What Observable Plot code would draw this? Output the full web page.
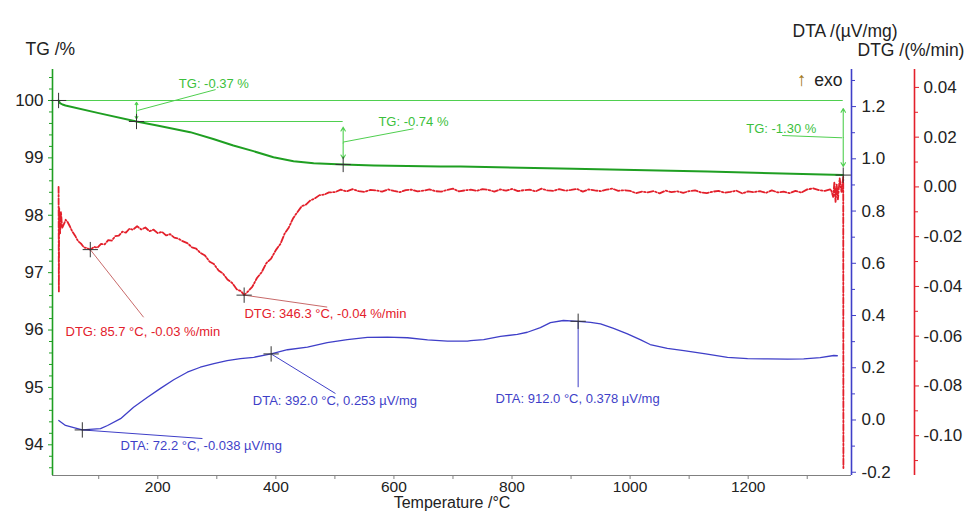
<!DOCTYPE html>
<html><head><meta charset="utf-8">
<script src="https://cdn.jsdelivr.net/npm/d3@7"></script>
<script src="https://cdn.jsdelivr.net/npm/@observablehq/plot@0.6"></script>
<style>body{margin:0;background:#fff}#chart svg{display:block}</style>
</head><body><div id="chart"></div>
<script>
// ---------- data ----------
const tgT = [32, 34.3, 38.6, 43.7, 100, 164, 199, 255, 294, 328, 362, 396, 430, 464, 514, 566, 679, 713, 904, 1131, 1361];
const tgV = [100.0, 99.956, 99.93, 99.913, 99.78, 99.634, 99.564, 99.448, 99.33, 99.216, 99.117, 99.012, 98.943, 98.907, 98.885, 98.867, 98.85, 98.848, 98.81, 98.763, 98.70];

const dtaT = [32.3, 43.7, 57.7, 72.2, 103, 115, 137, 159, 182, 204.6, 227, 250, 272, 295, 317.5, 340, 362.6, 392, 419.7, 453.5, 487, 521, 555, 589, 623, 657, 690.6, 724.6, 730, 752, 780.5, 809, 826, 848, 865, 887, 912, 933, 950, 972, 995.5, 1018, 1034, 1063, 1091, 1128, 1165, 1199, 1233, 1266.5, 1294, 1322, 1345, 1351];
const dtaV = [-0.002, -0.021, -0.029, -0.038, -0.033, -0.021, 0.005, 0.049, 0.086, 0.121, 0.154, 0.183, 0.202, 0.216, 0.227, 0.235, 0.240, 0.253, 0.269, 0.279, 0.296, 0.308, 0.316, 0.317, 0.315, 0.307, 0.302, 0.302, 0.304, 0.308, 0.320, 0.328, 0.336, 0.354, 0.373, 0.381, 0.378, 0.374, 0.368, 0.351, 0.330, 0.307, 0.289, 0.274, 0.266, 0.253, 0.240, 0.235, 0.234, 0.233, 0.234, 0.239, 0.247, 0.246];

const dtgT = [32, 32.5, 33, 34.5, 36, 38, 41, 44, 47, 51, 55, 60, 65, 70, 75, 80, 85.7, 92, 98, 104, 110, 116, 122, 128, 134, 140, 146, 152, 158, 165, 172, 179, 186, 193, 200, 207, 214, 221, 228, 235, 242, 250, 258, 265, 272, 280, 288, 295, 303, 310, 318, 326, 334, 341, 346.3, 352, 360, 368, 376, 384, 392, 400, 408, 415, 422, 429, 436, 444, 451, 458, 466, 474, 482, 490, 500,
  510, 520, 530, 540, 550, 560, 570, 580, 590, 600, 610, 620, 630, 640, 650, 660, 670, 680, 690, 700, 710, 720, 730, 740, 750, 760, 770, 780, 790, 800, 810, 820, 830, 840, 850, 860, 870, 880, 890, 900, 910, 920, 930, 940, 950, 960, 970, 980, 990, 1000, 1010, 1020, 1030, 1040, 1050, 1060, 1070, 1080, 1090, 1100, 1110, 1120, 1130, 1140, 1150, 1160, 1170, 1180, 1190, 1200, 1210, 1220, 1230, 1240, 1250, 1260, 1270, 1280, 1290, 1300, 1310, 1320, 1330, 1340,
  1344, 1346, 1348, 1350, 1352, 1355, 1358, 1361, 1361.3];
const dtgV = [0.0, -0.042, -0.0085, -0.019, -0.010, -0.0165, -0.015, -0.0132, -0.014, -0.0158, -0.0178, -0.0196, -0.0218, -0.0228, -0.0243, -0.0246, -0.0252, -0.0241, -0.0244, -0.0229, -0.0231, -0.0214, -0.0216, -0.0198, -0.0196, -0.018, -0.0184, -0.0168, -0.0172, -0.0158, -0.0171, -0.0163, -0.0178, -0.0172, -0.0186, -0.018, -0.0195, -0.019, -0.0204, -0.0208, -0.0218, -0.0226, -0.0243, -0.0248, -0.0265, -0.0276, -0.0301, -0.031, -0.0336, -0.0347, -0.0372, -0.0386, -0.0412, -0.0419, -0.0435, -0.0422, -0.0402, -0.0366, -0.0343, -0.0306, -0.0288, -0.0254, -0.0228, -0.0187, -0.0163, -0.0127, -0.0103, -0.0077, -0.0071, -0.0055, -0.0046, -0.0033, -0.0031, -0.0022, -0.0021,
  -0.0011, -0.0018, -0.0009, -0.0017, -0.0020, -0.0012, -0.0014, -0.0019, -0.0010, -0.0016, -0.0021, -0.0013, -0.0011, -0.0018, -0.0015, -0.0010, -0.0017, -0.0019, -0.0012, -0.0007, -0.0018, -0.0014, -0.0011, -0.0016, -0.0009, -0.0012, -0.0019, -0.0010, -0.0015, -0.0008, -0.0017, -0.0013, -0.0011, -0.0018, -0.0007, -0.0014, -0.0016, -0.0009, -0.0015, -0.0012, -0.0008, -0.0019, -0.0010, -0.0014, -0.0017, -0.0011, -0.0007, -0.0016, -0.0013, -0.0016, -0.0025, -0.0019, -0.0022, -0.0017, -0.0026, -0.0015, -0.0021, -0.0018, -0.0024, -0.0017, -0.0014, -0.0022, -0.0025, -0.0019, -0.0016, -0.0023, -0.0020, -0.0015, -0.0026, -0.0018, -0.0021, -0.0017, -0.0024, -0.0014, -0.0022, -0.0019, -0.0025, -0.0016, -0.0023, -0.0010, -0.0006, -0.0013, -0.0016, -0.0009,
  -0.0040, 0.0020, -0.0060, 0.0010, -0.0050, 0.0035, -0.0020, 0.0040, -0.1130];

// tick values
const xTicks = [100, 200, 300, 400, 500, 600, 700, 800, 900, 1000, 1100, 1200, 1300];
const tgMajor = [94, 95, 96, 97, 98, 99, 100];
const dtaMajor = [-0.2, 0.0, 0.2, 0.4, 0.6, 0.8, 1.0, 1.2];
const dtaMinor = [-0.1, 0.1, 0.3, 0.5, 0.7, 0.9, 1.1, 1.3];
const dtgMajor = [-0.10, -0.08, -0.06, -0.04, -0.02, 0.00, 0.02, 0.04];
const dtgMinor = [-0.11, -0.09, -0.07, -0.05, -0.03, -0.01, 0.01, 0.03];

// annotations (data units)
const tgLabels = ["TG: -0.37 %", "TG: -0.74 %", "TG: -1.30 %"];
const tgLabelT = [295, 633, 1256];
const tgLabelV = [100.296, 99.622, 99.512];
const tgLeadT1 = [298, 633, 1257.6], tgLeadV1 = [100.19, 99.507, 99.39];
const tgLeadT2 = [165.6, 514, 1359], tgLeadV2 = [99.826, 99.275, 99.35];
const tgArrowT = [164, 514, 1361];
const tgArrowTop = [99.97, 99.535, 99.86];
const tgArrowBottom = [99.68, 98.984, 98.85];
const tgRefT1 = [32, 164], tgRefT2 = [1361, 514], tgRefV = [100, 99.634];
const tgMarkT = [32, 164, 514, 1361], tgMarkV = [100, 99.634, 98.885, 98.70];

const dtgLabels = ["DTG: 85.7 °C, -0.03 %/min", "DTG: 346.3 °C, -0.04 %/min"];
const dtgPeakT = [85.7, 346.3], dtgPeakV = [-0.0252, -0.0435];
const dtgLeadT = [176, 487], dtgLeadV = [-0.0524, -0.0483];
const dtgLabelT = [43.7, 346.8], dtgLabelV = [-0.0582, -0.0510];

const dtaLabels = ["DTA: 72.2 °C, -0.038 µV/mg", "DTA: 392.0 °C, 0.253 µV/mg", "DTA: 912.0 °C, 0.378 µV/mg"];
const dtaPeakT = [72.2, 392, 912], dtaPeakV = [-0.038, 0.253, 0.378];
const dtaLeadT = [275.7, 501, 912], dtaLeadV = [-0.071, 0.1014, 0.1256];
const dtaLabelT = [137, 361, 772], dtaLabelV = [-0.0976, 0.0747, 0.0815];

// ---------- scales ----------
const xDomain = [21.7, 1375];
const tgDomain = [93.465, 100.54];
const dtaDomain = [-0.2125, 1.342];
const dtgDomain = [-0.116, 0.0472];
const dtaToTg = d3.scaleLinear(dtaDomain, tgDomain);
const dtgToTg = d3.scaleLinear(dtgDomain, tgDomain);

const GREEN = "#1f9f22", LGREEN = "#4fcf4f", TGTXT = "#3cbf3c";
const BLUE = "#3f3fc8", RED = "#e3202b", DTGLEAD = "#c86a6a";
const INK = "#222";

function fmt(v, d) { const p = Math.pow(10, d); let r = Math.round(v * p) / p; if (r === 0) r = 0; return r.toFixed(d); }

const tg = tgT.map((t, i) => ({t, v: tgV[i]}));
const dta = dtaT.map((t, i) => ({t, v: dtaToTg(dtaV[i])}));
const dtg = dtgT.map((t, i) => ({t, v: dtgToTg(dtgV[i])}));

const tgAnn = tgLabels.map((s, i) => ({s, lt: tgLabelT[i], lv: tgLabelV[i], t1: tgLeadT1[i], v1: tgLeadV1[i], t2: tgLeadT2[i], v2: tgLeadV2[i],
  at: tgArrowT[i], top: tgArrowTop[i], bot: tgArrowBottom[i], mid: (tgArrowTop[i] + tgArrowBottom[i]) / 2}));
const tgRefs = tgRefV.map((v, i) => ({v, t1: tgRefT1[i], t2: tgRefT2[i]}));
const tgMarks = tgMarkT.map((t, i) => ({t, v: tgMarkV[i]}));
const dtgAnn = dtgLabels.map((s, i) => ({s, pt: dtgPeakT[i], pv: dtgToTg(dtgPeakV[i]), lt: dtgLeadT[i], lv: dtgToTg(dtgLeadV[i]), xt: dtgLabelT[i], xv: dtgToTg(dtgLabelV[i])}));
const dtaAnn = dtaLabels.map((s, i) => ({s, pt: dtaPeakT[i], pv: dtaToTg(dtaPeakV[i]), lt: dtaLeadT[i], lv: dtaToTg(dtaLeadV[i]), xt: dtaLabelT[i], xv: dtaToTg(dtaLabelV[i])}));

const tgMinor = d3.range(93.6, 100.5, 0.2).filter(v => Math.abs(v - Math.round(v)) > 0.05);

const chart = Plot.plot({
  width: 971, height: 511,
  marginLeft: 52, marginRight: 120, marginTop: 69, marginBottom: 36,
  x: {domain: xDomain},
  y: {domain: tgDomain},
  style: {fontFamily: "'Liberation Sans', Arial, sans-serif", background: "#fff", color: INK},
  marks: [
    // axis lines
    Plot.ruleY([tgDomain[0]], {stroke: "#808080", strokeWidth: 1.2}),
    Plot.ruleX([xDomain[0]], {stroke: GREEN, strokeWidth: 1.6}),
    Plot.ruleX([xDomain[1]], {stroke: BLUE, strokeWidth: 1.6}),
    Plot.ruleX([xDomain[1]], {stroke: RED, strokeWidth: 1.6, dx: 63}),
    // axes
    Plot.axisX({ticks: xTicks, tickSize: 4, tickPadding: 1, tickFormat: d => d % 200 === 0 ? String(d) : "", fontSize: 15.5, stroke: "#808080", fill: INK, label: null}),
    Plot.axisY({anchor: "left", ticks: tgMajor, tickSize: 4, tickPadding: 5, tickFormat: d => String(d), fontSize: 17, stroke: GREEN, fill: INK, label: null}),
    Plot.axisY({anchor: "left", ticks: tgMinor, tickSize: 3, tickFormat: () => "", stroke: GREEN, label: null}),
    Plot.axisY({anchor: "right", ticks: dtaMajor.map(dtaToTg), tickSize: 4, tickPadding: 6, tickFormat: d => fmt(dtaToTg.invert(d), 1), fontSize: 17, stroke: BLUE, fill: INK, label: null}),
    Plot.axisY({anchor: "right", ticks: dtaMinor.map(dtaToTg), tickSize: 3, tickFormat: () => "", stroke: BLUE, label: null}),
    Plot.axisY({anchor: "right", dx: 63, ticks: dtgMajor.map(dtgToTg), tickSize: 4, tickPadding: 5, tickFormat: d => fmt(dtgToTg.invert(d), 2), fontSize: 17, stroke: RED, fill: INK, label: null}),
    Plot.axisY({anchor: "right", dx: 63, ticks: dtgMinor.map(dtgToTg), tickSize: 3, tickFormat: () => "", stroke: RED, label: null}),
    // titles
    Plot.text(["TG /%"], {frameAnchor: "top-left", dx: -27, dy: -27, textAnchor: "start", fontSize: 17.5, fill: INK}),
    Plot.text(["DTA /(µV/mg)"], {frameAnchor: "top-right", dx: -59, dy: -45, textAnchor: "start", fontSize: 17.5, fill: INK}),
    Plot.text(["DTG /(%/min)"], {frameAnchor: "top-right", dx: 6, dy: -26, textAnchor: "start", fontSize: 17.5, fill: INK}),
    Plot.text(["exo"], {frameAnchor: "top-right", dx: -9, dy: 4, textAnchor: "end", fontSize: 17.5, fill: INK}),
    Plot.text(["↑"], {frameAnchor: "top-right", dx: -45, dy: 3, textAnchor: "end", fontSize: 19, fontWeight: "bold", fill: "#a07818"}),
    Plot.text(["Temperature /°C"], {frameAnchor: "bottom", dy: 32.5, fontSize: 16, fill: INK}),
    // TG annotations
    Plot.ruleY(tgRefs, {y: "v", x1: "t1", x2: "t2", stroke: LGREEN, strokeWidth: 1.1}),
    Plot.arrow(tgAnn, {x1: "at", x2: "at", y1: "mid", y2: "top", stroke: LGREEN, strokeWidth: 1.1, headLength: 6}),
    Plot.arrow(tgAnn, {x1: "at", x2: "at", y1: "mid", y2: "bot", stroke: LGREEN, strokeWidth: 1.1, headLength: 6}),
    Plot.link(tgAnn, {x1: "t1", y1: "v1", x2: "t2", y2: "v2", stroke: LGREEN, strokeWidth: 1}),
    Plot.text(tgAnn, {x: "lt", y: "lv", text: "s", fill: TGTXT, fontSize: 13}),
    // DTG / DTA leaders
    Plot.link(dtgAnn, {x1: "pt", y1: "pv", x2: "lt", y2: "lv", stroke: DTGLEAD, strokeWidth: 1}),
    Plot.link(dtaAnn, {x1: "pt", y1: "pv", x2: "lt", y2: "lv", stroke: BLUE, strokeWidth: 1}),
    // curves
    Plot.line(dta, {x: "t", y: "v", stroke: BLUE, strokeWidth: 1.3}),
    Plot.line(dtg, {x: "t", y: "v", stroke: RED, strokeWidth: 1.8, strokeDasharray: "6,2,1.5,2"}),
    Plot.line(tg, {x: "t", y: "v", stroke: GREEN, strokeWidth: 2}),
    // markers
    Plot.dot(tgMarks, {x: "t", y: "v", symbol: "plus", r: 5, stroke: "#333", fill: "none", strokeWidth: 1}),
    Plot.dot(dtgAnn, {x: "pt", y: "pv", symbol: "plus", r: 5, stroke: "#333", fill: "none", strokeWidth: 1}),
    Plot.dot(dtaAnn, {x: "pt", y: "pv", symbol: "plus", r: 5, stroke: "#333", fill: "none", strokeWidth: 1}),
    // labels
    Plot.text(dtgAnn, {x: "xt", y: "xv", text: "s", textAnchor: "start", fill: RED, fontSize: 13}),
    Plot.text(dtaAnn, {x: "xt", y: "xv", text: "s", textAnchor: "start", fill: BLUE, fontSize: 13})
  ]
});
document.getElementById("chart").appendChild(chart);
</script>
</body></html>
